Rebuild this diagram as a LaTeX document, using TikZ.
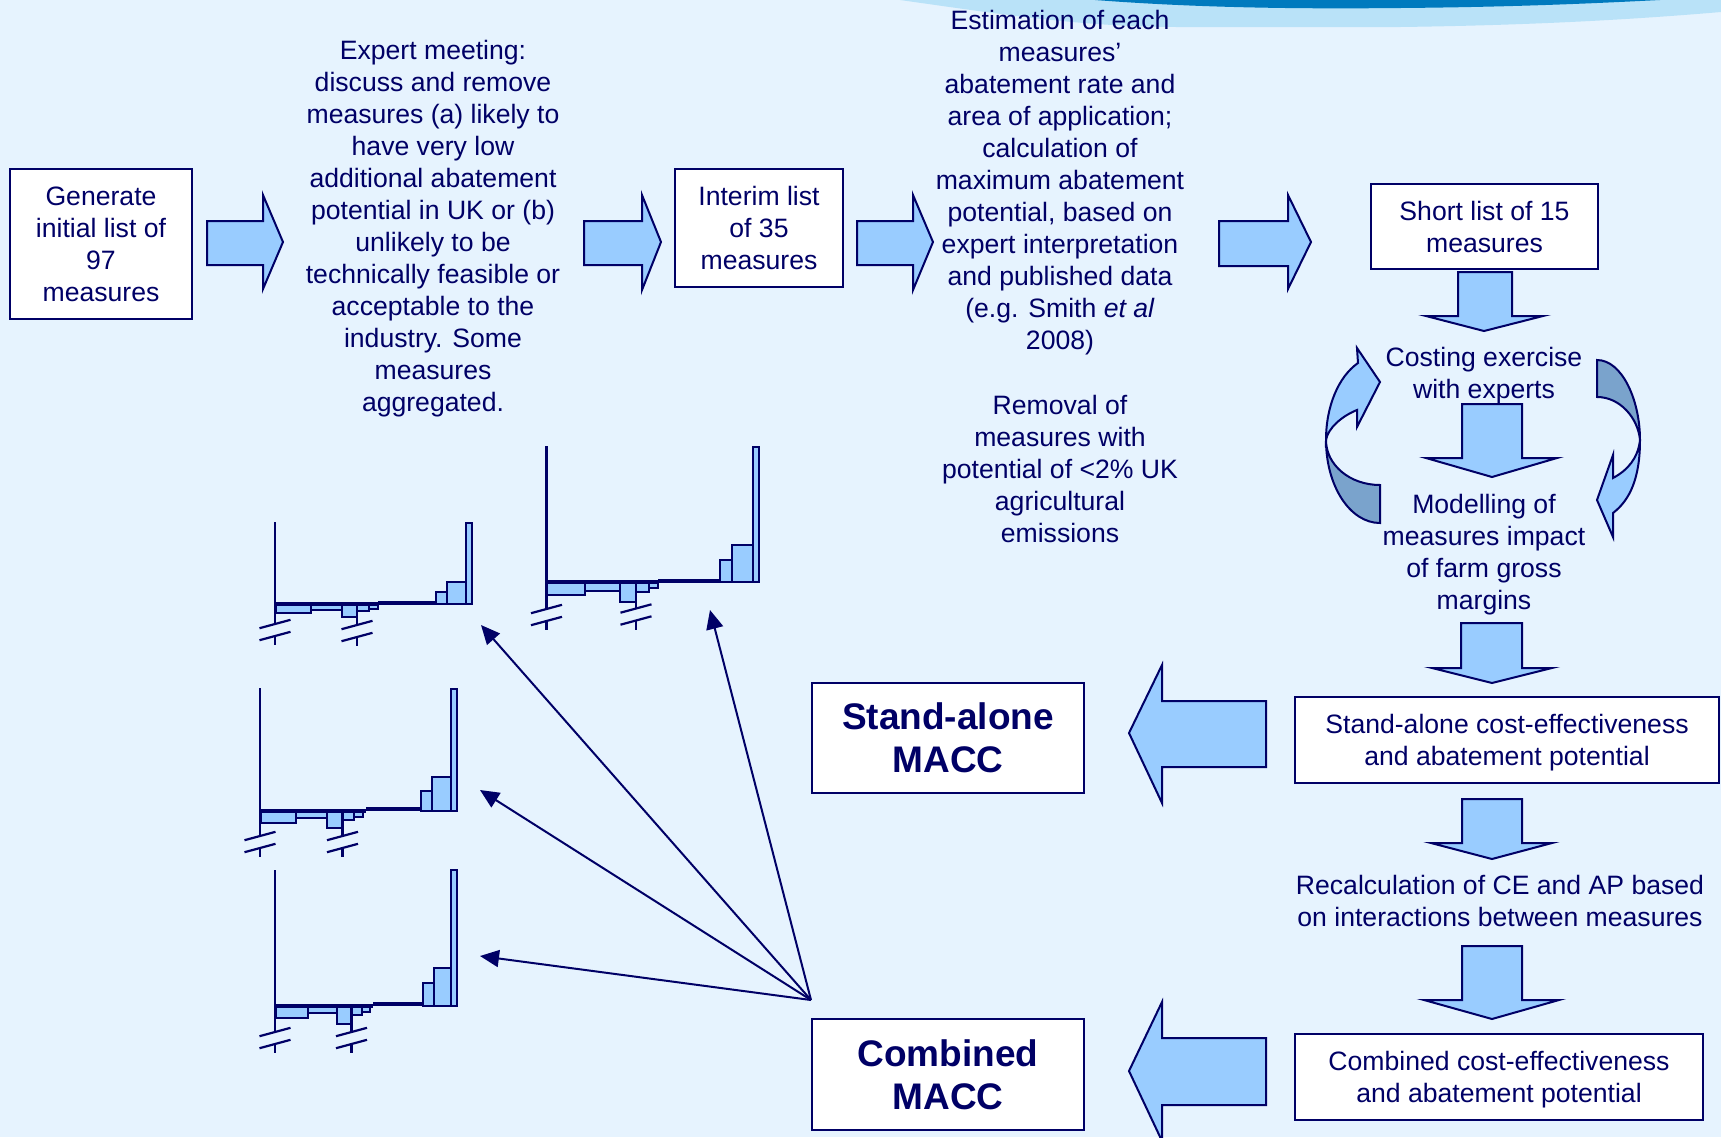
\documentclass[tikz,border=0pt]{standalone}
\usepackage{fontspec}
\setmainfont{Liberation Sans}
\usetikzlibrary{arrows.meta}
\definecolor{bg}{RGB}{230,243,254}
\definecolor{navy}{RGB}{0,0,102}
\definecolor{abl}{RGB}{153,204,255}
\definecolor{dkb}{RGB}{122,163,204}
\definecolor{swd}{RGB}{0,122,190}
\definecolor{swl}{RGB}{185,226,248}
\newcommand\axbrk[3]{%
 \draw[chax] (#1,#2) -- (#1,#3);
 \draw[chax] (#1,#3+12) -- (#1,#3+21);
 \draw[chax] (#1-15.5,#3+4.2) -- (#1+15.5,#3-4.2);
 \draw[chax] (#1-15.5,#3+16.2) -- (#1+15.5,#3+7.8);}
\begin{document}
\begin{tikzpicture}[x=0.5pt,y=-0.5pt,
  txt/.style={font=\fontsize{13.3}{16}\selectfont, text=navy, align=center, inner sep=0pt},
  box/.style={txt, draw=navy, line width=1pt, fill=white},
  bigtxt/.style={font=\fontsize{18.5}{21.5}\selectfont\bfseries},
  blk/.style={fill=abl, draw=navy, line width=1pt, line join=miter},
  dblk/.style={fill=dkb, draw=navy, line width=1pt},
  bar/.style={fill=abl, draw=navy, line width=0.9pt},
  chax/.style={draw=navy, line width=1.1pt},
  chbase/.style={draw=navy, line width=1.6pt},
  thinarrow/.style={draw=navy, line width=1pt, -{Triangle[length=9.5pt,width=8.5pt]}}]
\useasboundingbox (0,0) rectangle (1721,1137);
\fill[bg] (0,0) rectangle (1721,1137);
\clip (0,0) rectangle (1721,1137);
% top swoosh
\fill[swl] (900,0) .. controls (1000,14) and (1080,27) .. (1180,27) -- (1400,27) .. controls (1550,25) and (1650,18) .. (1721,12) -- (1721,0) -- cycle;
\fill[swd] (1095,0) .. controls (1200,8) and (1300,9) .. (1400,8) .. controls (1520,7) and (1600,3) .. (1660,0) -- cycle;

% top row
\node[box, minimum width=91pt, minimum height=75pt] (b1) at (101,244) {Generate\\initial list of\\97\\measures};
\node[txt] (t2) at (433,229) {Expert meeting:\\discuss and remove\\measures (a) likely to\\have very low\\additional abatement\\potential in UK or (b)\\unlikely to be\\technically feasible or\\acceptable to the\\industry. Some\\measures\\aggregated.};
\node[box, minimum width=84pt, minimum height=59pt] (b3) at (759,228) {Interim list\\of 35\\measures};
\node[txt] (t4) at (1060,183) {Estimation of each\\measures’\\abatement rate and\\area of application;\\calculation of\\maximum abatement\\potential, based on\\expert interpretation\\and published data\\(e.g. Smith \textit{et al}\\2008)};
\node[txt] (t5) at (1060,469) {Removal of\\measures with\\potential of <2\% UK\\agricultural\\emissions};
\node[box, minimum width=113.5pt, minimum height=42.5pt] (b6) at (1484.5,226.5) {Short list of 15\\measures};

% right arrows
\draw[blk] (207,221) -- (263,221) -- (263,195) -- (283,242) -- (263,289) -- (263,265) -- (207,265) -- cycle;
\draw[blk] (584,221) -- (642,221) -- (642,195) -- (661,242) -- (642,290) -- (642,265) -- (584,265) -- cycle;
\draw[blk] (857,221) -- (913,221) -- (913,195) -- (933,242) -- (913,290) -- (913,265) -- (857,265) -- cycle;
\draw[blk] (1219,221) -- (1288,221) -- (1288,195) -- (1311,242) -- (1288,289) -- (1288,266) -- (1219,266) -- cycle;

% cycle
\node[txt] (c1) at (1484,376) {Costing exercise\\with experts};
\node[txt] (c2) at (1484,555) {Modelling of\\measures impact\\of farm gross\\margins};
\draw[blk] (1458,272) -- (1458,316) -- (1426,316) -- (1484,331) -- (1543,316) -- (1512,316) -- (1512,272) -- cycle;
\draw[blk] (1462,404) -- (1462,458) -- (1426,458) -- (1492,477) -- (1557,458) -- (1522,458) -- (1522,404) -- cycle;
% left curved arrow
\draw[dblk] (1326,440) .. controls (1326,465) and (1350,485) .. (1380,485) -- (1380,523) .. controls (1350,523) and (1326,486) .. (1326,440) -- cycle;
\draw[blk] (1326,440) .. controls (1326,407) and (1338,377) .. (1358,363) -- (1357,348) -- (1380,382) -- (1357,427) -- (1357,410) .. controls (1342,416) and (1328,428) .. (1326,440) -- cycle;
% right curved arrow
\draw[dblk] (1597,360) .. controls (1622,360) and (1640,400) .. (1640,440) .. controls (1638,418) and (1620,397) .. (1597,397) -- cycle;
\draw[blk] (1640,440) .. controls (1640,478) and (1630,500) .. (1613,513) -- (1613,537) -- (1597,500) -- (1613,455) -- (1613,478) .. controls (1628,470) and (1638,458) .. (1640,440) -- cycle;

\draw[blk] (1461,623) -- (1461,668) -- (1432,668) -- (1492,683) -- (1552,668) -- (1522,668) -- (1522,623) -- cycle;
\node[box, minimum width=212pt, minimum height=43pt] (b7) at (1507,740) {};
\node[txt] (b7t) at (1507,743) {Stand-alone cost-effectiveness\\and abatement potential};
\draw[blk] (1462,799) -- (1462,843) -- (1431,843) -- (1492,859) -- (1552,843) -- (1522,843) -- (1522,799) -- cycle;
\node[txt] (t8) at (1500,901) {Recalculation of CE and AP based\\on interactions between measures};
\draw[blk] (1462,946) -- (1462,1000) -- (1424,1000) -- (1492,1019) -- (1559,1000) -- (1522,1000) -- (1522,946) -- cycle;
\node[box, minimum width=204pt, minimum height=43pt] (b9) at (1499,1077) {};
\node[txt] (b9t) at (1499,1079.5) {Combined cost-effectiveness\\and abatement potential};

% MACC boxes
\node[box, bigtxt, minimum width=136pt, minimum height=55pt] (m1) at (948,738) {Stand-alone\\MACC};
\node[box, bigtxt, minimum width=136pt, minimum height=55.5pt] (m2) at (948,1074.5) {Combined\\MACC};
\draw[blk] (1266,701) -- (1162,701) -- (1162,665) -- (1129,733) -- (1162,803) -- (1162,767) -- (1266,767) -- cycle;
\draw[blk] (1266,1038) -- (1162,1038) -- (1162,1002) -- (1129,1071) -- (1162,1141) -- (1162,1105) -- (1266,1105) -- cycle;

% chart 1
\draw[bar] (276,604) rectangle (311,613);
\draw[bar] (311,604) rectangle (342,610);
\draw[bar] (342,604) rectangle (357,617);
\draw[bar] (357,604) rectangle (369,611);
\draw[bar] (369,604) rectangle (378,609);
\draw[bar] (436,604) rectangle (447,592);
\draw[bar] (447,604) rectangle (466,582);
\draw[bar] (466,604) rectangle (472,523);
\draw[chbase] (275,604) -- (378,604);
\draw[chbase] (378,603) -- (436,603);
\draw[chax] (275,522) -- (275,604);
\axbrk{275}{604}{624}
\axbrk{357}{604}{625}
% chart 2
\draw[bar] (547,582) rectangle (585,595);
\draw[bar] (585,582) rectangle (620,591);
\draw[bar] (620,582) rectangle (636,602);
\draw[bar] (636,582) rectangle (649,592);
\draw[bar] (649,582) rectangle (658,588);
\draw[bar] (720,582) rectangle (732,560);
\draw[bar] (732,582) rectangle (753,545);
\draw[bar] (753,582) rectangle (759,447);
\draw[chbase] (546.5,582) -- (658,582);
\draw[chbase] (658,581) -- (720,581);
\draw[chax] (546.5,446) -- (546.5,582);
\axbrk{546.5}{582}{609}
\axbrk{636}{582}{608.5}
% chart 3
\draw[bar] (261,811) rectangle (296,823);
\draw[bar] (296,811) rectangle (327,818);
\draw[bar] (327,811) rectangle (342,828);
\draw[bar] (342,811) rectangle (354,820);
\draw[bar] (354,811) rectangle (363,817);
\draw[bar] (421,811) rectangle (432,791);
\draw[bar] (432,811) rectangle (451,777);
\draw[bar] (451,811) rectangle (457,689);
\draw[chbase] (260,811) -- (366,811);
\draw[chbase] (366,809) -- (421,809);
\draw[chax] (260,688) -- (260,811);
\axbrk{260}{811}{836}
\axbrk{342.5}{811}{836}
% chart 4
\draw[bar] (276,1006) rectangle (308,1018);
\draw[bar] (308,1006) rectangle (337,1013);
\draw[bar] (337,1006) rectangle (351,1024);
\draw[bar] (351,1006) rectangle (362,1015);
\draw[bar] (362,1006) rectangle (370,1012);
\draw[bar] (423,1006) rectangle (434,983);
\draw[bar] (434,1006) rectangle (451,968);
\draw[bar] (451,1006) rectangle (457,870);
\draw[chbase] (275,1006) -- (373,1006);
\draw[chbase] (373,1004) -- (423,1004);
\draw[chax] (275,870) -- (275,1006);
\axbrk{275}{1006}{1032}
\axbrk{351.5}{1006}{1032}

% thin arrows
\coordinate (src) at (811,1000);
\coordinate (k1) at (481,625);
\coordinate (k2) at (710,610);
\coordinate (k3) at (480,790);
\coordinate (k4) at (480,956);
\draw[thinarrow] (src) -- (k1);
\draw[thinarrow] (src) -- (k2);
\draw[thinarrow] (src) -- (k3);
\draw[thinarrow] (src) -- (k4);
\end{tikzpicture}
\end{document}
